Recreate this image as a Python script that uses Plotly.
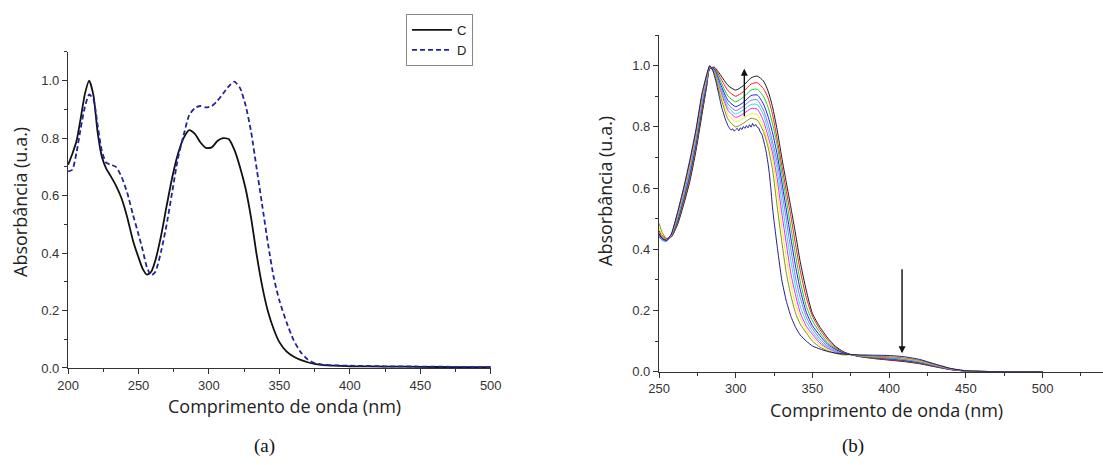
import plotly.graph_objects as go

# ---------------- Panel (a) data ----------------
A_X = [200, 203, 206, 209, 212, 215, 218, 221, 224, 227, 230, 234, 238, 242, 246, 250,
       253, 256, 259, 262, 266, 270, 274, 278, 282, 286, 290, 294, 298, 302, 306, 310,
       314, 318, 322, 326, 330, 334, 338, 342, 346, 350, 355, 360, 365, 370, 375, 380,
       390, 400, 425, 450, 475, 500]
A_C = [0.707, 0.745, 0.79, 0.87, 0.955, 1.0, 0.95, 0.82, 0.735, 0.695, 0.67, 0.635, 0.59,
       0.525, 0.445, 0.385, 0.345, 0.325, 0.335, 0.375, 0.46, 0.565, 0.665, 0.745, 0.80,
       0.828, 0.815, 0.785, 0.766, 0.768, 0.79, 0.80, 0.797, 0.76, 0.70, 0.625, 0.52,
       0.39, 0.28, 0.195, 0.135, 0.09, 0.058, 0.04, 0.028, 0.02, 0.014, 0.011, 0.008,
       0.006, 0.005, 0.004, 0.003, 0.003]
A_D = [0.684, 0.69, 0.75, 0.835, 0.91, 0.952, 0.935, 0.845, 0.755, 0.715, 0.708, 0.70,
       0.665, 0.61, 0.535, 0.465, 0.41, 0.35, 0.322, 0.335, 0.405, 0.50, 0.615, 0.73,
       0.81, 0.88, 0.905, 0.912, 0.907, 0.912, 0.93, 0.955, 0.98, 0.997, 0.975, 0.915,
       0.82, 0.69, 0.56, 0.43, 0.315, 0.235, 0.16, 0.098, 0.056, 0.03, 0.017, 0.012,
       0.009, 0.008, 0.006, 0.005, 0.004, 0.003]
A_NAMES = ["C", "D"]

# ---------------- Panel (b) data ----------------
B_X = [250, 252, 255, 258, 262, 266, 270, 274, 278, 281, 283, 286, 290, 295, 300, 305, 310, 314,
       318, 321, 324, 327, 330, 333, 336, 339, 342, 346, 350, 355, 360, 365, 370,
       375, 380, 390, 400, 410, 420, 430, 440, 450, 460, 480, 500]
B_SERIES = [
    [0.46, 0.445, 0.435, 0.44, 0.48, 0.545, 0.62, 0.72, 0.84, 0.93, 0.99, 0.995, 0.97, 0.935, 0.92, 0.935, 0.96, 0.966,
     0.95, 0.918, 0.865, 0.79, 0.70, 0.617, 0.535, 0.45, 0.36, 0.265, 0.19, 0.145, 0.11, 0.083, 0.066,
     0.056, 0.05, 0.043, 0.038, 0.033, 0.026, 0.016, 0.007, 0.002, 0.001, 0.0, 0.0],
    [0.455, 0.44, 0.433, 0.441, 0.484, 0.551, 0.628, 0.728, 0.848, 0.934, 0.991, 0.993, 0.96, 0.918, 0.90, 0.915, 0.94, 0.944,
     0.925, 0.895, 0.84, 0.76, 0.674, 0.589, 0.506, 0.415, 0.331, 0.242, 0.181, 0.137, 0.103, 0.079, 0.064,
     0.056, 0.0505, 0.044, 0.039, 0.034, 0.027, 0.017, 0.007, 0.002, 0.001, 0.0, 0.0],
    [0.45, 0.435, 0.43, 0.442, 0.489, 0.557, 0.636, 0.736, 0.856, 0.939, 0.992, 0.99, 0.95, 0.90, 0.882, 0.897, 0.92, 0.923,
     0.90, 0.865, 0.81, 0.74, 0.65, 0.561, 0.47, 0.38, 0.296, 0.214, 0.166, 0.127, 0.095, 0.076, 0.062,
     0.056, 0.051, 0.045, 0.041, 0.036, 0.029, 0.018, 0.008, 0.002, 0.001, 0.0, 0.0],
    [0.44, 0.43, 0.427, 0.443, 0.493, 0.563, 0.643, 0.743, 0.863, 0.943, 0.993, 0.988, 0.94, 0.886, 0.866, 0.88, 0.902, 0.904,
     0.875, 0.835, 0.78, 0.71, 0.621, 0.528, 0.434, 0.344, 0.269, 0.194, 0.151, 0.117, 0.089, 0.073, 0.061,
     0.056, 0.0515, 0.046, 0.042, 0.037, 0.030, 0.018, 0.008, 0.002, 0.001, 0.0, 0.0],
    [0.445, 0.43, 0.427, 0.444, 0.498, 0.569, 0.651, 0.751, 0.871, 0.948, 0.994, 0.985, 0.932, 0.874, 0.853, 0.867, 0.887, 0.888,
     0.855, 0.81, 0.75, 0.685, 0.593, 0.494, 0.397, 0.306, 0.242, 0.179, 0.141, 0.107, 0.083, 0.069, 0.059,
     0.056, 0.052, 0.047, 0.043, 0.039, 0.031, 0.019, 0.008, 0.002, 0.001, 0.0, 0.0],
    [0.44, 0.43, 0.426, 0.445, 0.502, 0.576, 0.659, 0.759, 0.879, 0.952, 0.995, 0.983, 0.925, 0.864, 0.842, 0.855, 0.873, 0.873,
     0.84, 0.79, 0.735, 0.66, 0.557, 0.455, 0.359, 0.277, 0.215, 0.163, 0.131, 0.099, 0.079, 0.066, 0.058,
     0.056, 0.052, 0.048, 0.045, 0.040, 0.032, 0.020, 0.009, 0.002, 0.001, 0.0, 0.0],
    [0.45, 0.435, 0.428, 0.446, 0.507, 0.582, 0.667, 0.767, 0.887, 0.957, 0.996, 0.98, 0.918, 0.854, 0.831, 0.843, 0.86, 0.858,
     0.82, 0.77, 0.715, 0.63, 0.519, 0.417, 0.319, 0.25, 0.193, 0.149, 0.122, 0.093, 0.076, 0.064, 0.057,
     0.056, 0.053, 0.049, 0.046, 0.042, 0.034, 0.021, 0.009, 0.003, 0.001, 0.0, 0.0],
    [0.47, 0.445, 0.432, 0.447, 0.511, 0.588, 0.674, 0.774, 0.894, 0.961, 0.997, 0.978, 0.91, 0.84, 0.816, 0.828, 0.843, 0.84,
     0.80, 0.75, 0.695, 0.59, 0.472, 0.371, 0.283, 0.219, 0.176, 0.138, 0.111, 0.087, 0.072, 0.062, 0.056,
     0.056, 0.053, 0.050, 0.048, 0.043, 0.035, 0.022, 0.010, 0.003, 0.001, 0.0, 0.0],
    [0.485, 0.455, 0.435, 0.448, 0.516, 0.594, 0.682, 0.782, 0.902, 0.966, 0.999, 0.975, 0.90, 0.825, 0.80, 0.812, 0.828, 0.822,
     0.785, 0.735, 0.66, 0.54, 0.425, 0.321, 0.248, 0.191, 0.156, 0.127, 0.10, 0.08, 0.068, 0.06, 0.055,
     0.056, 0.054, 0.051, 0.049, 0.045, 0.037, 0.023, 0.010, 0.003, 0.001, 0.0, 0.0],
]
B_COLORS = ["#000000", "#FF0000", "#00CC00", "#0000FF", "#7B68EE",
            "#00E0E0", "#FF00FF", "#F2F200", "#808000"]

# lowest (noisy) spectrum, sampled more finely
B_NAVY_X = [250, 252, 255, 258, 262, 266, 270, 274, 278, 281, 283, 285, 287, 289, 291, 292, 293,
            294, 295, 296, 297, 298, 299, 300, 301, 302, 303, 304, 305, 306, 307, 308, 309, 310,
            311, 312, 313, 314, 315, 316, 317, 318, 319, 320, 321, 322, 323, 324, 325, 326, 327,
            328, 330, 333, 336, 339, 342, 346, 350, 355, 360, 365, 370, 375, 380, 390, 400, 410,
            420, 430, 440, 450, 460, 480, 500]
B_NAVY_Y = [0.45, 0.435, 0.43, 0.45, 0.52, 0.60, 0.69, 0.79, 0.91, 0.97, 1.0, 0.985, 0.95, 0.905,
            0.86, 0.845, 0.828, 0.815, 0.803, 0.795, 0.789, 0.794, 0.786, 0.791, 0.795, 0.787,
            0.797, 0.791, 0.801, 0.795, 0.804, 0.797, 0.807, 0.799, 0.811, 0.802, 0.808, 0.799,
            0.796, 0.783, 0.776, 0.758, 0.738, 0.714, 0.682, 0.643, 0.592, 0.535, 0.49, 0.45,
            0.41, 0.372, 0.30, 0.23, 0.18, 0.145, 0.12, 0.10, 0.084, 0.074, 0.066, 0.061, 0.058,
            0.056, 0.055, 0.054, 0.053, 0.049, 0.040, 0.025, 0.011, 0.003, 0.001, 0.0, 0.0]
B_NAVY_COLOR = "#000080"

ARROW_UP = (305.6, 0.83, 0.99)     # x, from y, to y
ARROW_DOWN = (408.4, 0.34, 0.06)

X_TITLE = "Comprimento de onda (nm)"
Y_TITLE = "Absorbância (u.a.)"
CAPTIONS = ["(a)", "(b)"]

fig = go.Figure()

fig.add_trace(go.Scatter(x=A_X, y=A_C, name=A_NAMES[0], mode="lines",
                         line=dict(color="#111111", width=1.8, shape="spline", smoothing=0.6),
                         xaxis="x", yaxis="y"))
fig.add_trace(go.Scatter(x=A_X, y=A_D, name=A_NAMES[1], mode="lines",
                         line=dict(color="#22229a", width=1.8, dash="5px,3px", shape="spline", smoothing=0.6),
                         xaxis="x", yaxis="y"))

for ys, col in zip(B_SERIES, B_COLORS):
    fig.add_trace(go.Scatter(x=B_X, y=ys, mode="lines", showlegend=False,
                             line=dict(color=col, width=0.9, shape="spline", smoothing=0.6),
                             xaxis="x2", yaxis="y2"))
fig.add_trace(go.Scatter(x=B_NAVY_X, y=B_NAVY_Y, mode="lines", showlegend=False,
                         line=dict(color=B_NAVY_COLOR, width=0.9, shape="spline", smoothing=0.4),
                         xaxis="x2", yaxis="y2"))

tickfont = dict(family="Liberation Sans, Arial", size=13, color="#333333")
axis_common = dict(showline=True, linecolor="#333333", linewidth=1.3, ticks="outside",
                   ticklen=5, tickwidth=1.2, tickcolor="#333333", showgrid=False,
                   zeroline=False, tickfont=tickfont, tickmode="linear", automargin=False)
minor_common = dict(ticks="outside", ticklen=3, tickwidth=1, tickcolor="#333333")

fig.update_layout(
    width=1103, height=465, margin=dict(l=0, r=0, t=0, b=0),
    paper_bgcolor="white", plot_bgcolor="white",
    xaxis=dict(domain=[0.0617, 0.4449], range=[200, 500], tick0=200, dtick=50,
               minor=dict(dtick=25, tick0=200, **minor_common), anchor="y", **axis_common),
    yaxis=dict(domain=[0.2086, 0.8882], range=[0, 1.1], tick0=0, dtick=0.2, tickformat=".1f",
               minor=dict(dtick=0.1, tick0=0, **minor_common), anchor="x", **axis_common),
    xaxis2=dict(domain=[0.5975, 1.0], range=[250, 539.4], tick0=250, dtick=50,
                minor=dict(dtick=25, tick0=250, **minor_common), anchor="y2", **axis_common),
    yaxis2=dict(domain=[0.2006, 0.9247], range=[0, 1.1], tick0=0, dtick=0.2, tickformat=".1f",
                minor=dict(dtick=0.1, tick0=0, **minor_common), anchor="x2", **axis_common),
    legend=dict(x=406 / 1103, y=1 - 14 / 465, xanchor="left", yanchor="top",
                bordercolor="#888888", borderwidth=1, bgcolor="white",
                font=dict(family="Liberation Sans, Arial", size=13, color="#222222"),
                itemwidth=40, tracegroupgap=0),
    showlegend=True,
)

title_font = dict(family="Open Sans", size=18, color="#222222")
cap_font = dict(family="Liberation Serif, Times New Roman", size=19, color="#111111")
anns = [
    dict(text=X_TITLE, x=284 / 1103, y=1 - 406 / 465, xref="paper", yref="paper",
         showarrow=False, font=title_font, xanchor="center", yanchor="middle"),
    dict(text=X_TITLE, x=886 / 1103, y=1 - 410 / 465, xref="paper", yref="paper",
         showarrow=False, font=title_font, xanchor="center", yanchor="middle"),
    dict(text=Y_TITLE, x=20 / 1103, y=1 - 202 / 465, xref="paper", yref="paper", textangle=-90,
         showarrow=False, font=title_font, xanchor="center", yanchor="middle"),
    dict(text=Y_TITLE, x=605 / 1103, y=1 - 191 / 465, xref="paper", yref="paper", textangle=-90,
         showarrow=False, font=title_font, xanchor="center", yanchor="middle"),
    dict(text=CAPTIONS[0], x=264 / 1103, y=1 - 446 / 465, xref="paper", yref="paper",
         showarrow=False, font=cap_font, xanchor="center", yanchor="middle"),
    dict(text=CAPTIONS[1], x=853 / 1103, y=1 - 446 / 465, xref="paper", yref="paper",
         showarrow=False, font=cap_font, xanchor="center", yanchor="middle"),
]
for (ax_x, y0, y1) in (ARROW_UP, ARROW_DOWN):
    anns.append(dict(x=ax_x, y=y1, ax=ax_x, ay=y0, xref="x2", yref="y2", axref="x2", ayref="y2",
                     text="", showarrow=True, arrowhead=2, arrowsize=1, arrowwidth=1.4,
                     arrowcolor="#111111"))
fig.update_layout(annotations=anns)

fig.write_html("out.html")
